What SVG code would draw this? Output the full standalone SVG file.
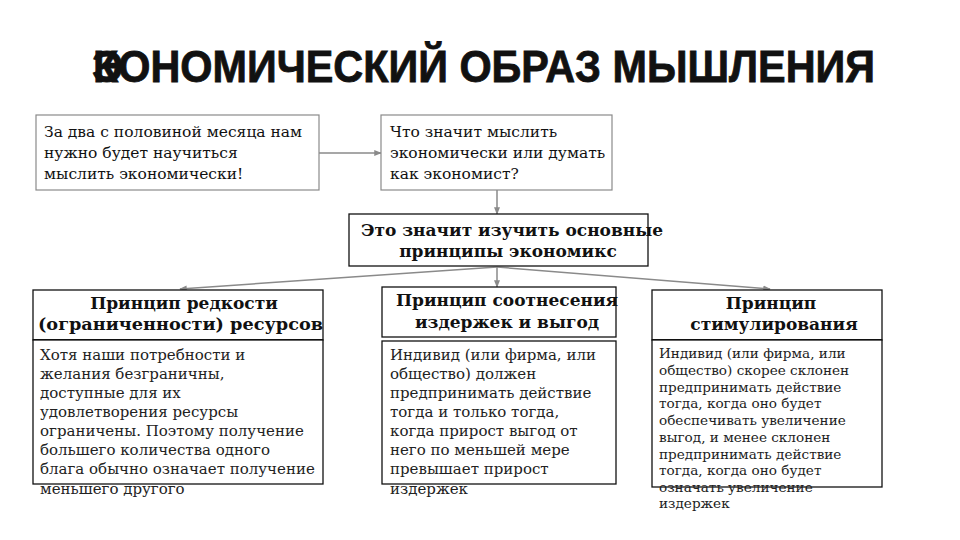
<svg xmlns="http://www.w3.org/2000/svg" width="960" height="540" viewBox="0 0 960 540">
<style>
.title{font-family:"Liberation Sans",Arial,sans-serif;font-weight:bold;font-size:44px;fill:#111;stroke:#111;stroke-width:0.8}
.q{font-family:"DejaVu Serif","Liberation Serif",serif;font-size:15.5px;fill:#111}
.h{font-family:"DejaVu Serif","Liberation Serif",serif;font-weight:bold;font-size:17px;fill:#111}
.b{font-family:"DejaVu Serif","Liberation Serif",serif;font-size:15px;fill:#222}
.s{font-family:"DejaVu Serif","Liberation Serif",serif;font-size:13.6px;fill:#222}
.boxg{fill:#fff;stroke:#8a8a8a;stroke-width:1.2}
.boxk{fill:#fff;stroke:#111;stroke-width:1.3}
.con{stroke:#8a8a8a;stroke-width:1.5;fill:none;marker-end:url(#ah)}
</style>
<defs>
<marker id="ah" viewBox="0 0 10 10" refX="9" refY="5" markerWidth="5" markerHeight="5" orient="auto">
<path d="M0,1 L10,5 L0,9 z" fill="#8a8a8a"/>
</marker>
</defs>
<rect width="960" height="540" fill="#fff"/>
<g id="title">
<text class="title" x="92" y="82">Э<tspan x="93" textLength="782" lengthAdjust="spacingAndGlyphs">КОНОМИЧЕСКИЙ ОБРАЗ МЫШЛЕНИЯ</tspan></text>
</g>
<g id="connectors">
<line class="con" x1="319" y1="153" x2="381" y2="153"/>
<line class="con" x1="497" y1="190" x2="497" y2="214"/>
<line class="con" x1="497" y1="267" x2="180" y2="289"/>
<line class="con" x1="497" y1="267" x2="497" y2="287"/>
<line class="con" x1="497" y1="267" x2="770" y2="289"/>
</g>
<g id="n1">
<rect class="boxg" x="36" y="115" width="283" height="75"/>
<text class="q" x="44" y="137">За два с половиной месяца нам</text>
<text class="q" x="44" y="158">нужно будет научиться</text>
<text class="q" x="44" y="179">мыслить экономически!</text>
</g>
<g id="n2">
<rect class="boxg" x="381" y="115" width="231" height="75"/>
<text class="q" x="390" y="137">Что значит мыслить</text>
<text class="q" x="390" y="158">экономически или думать</text>
<text class="q" x="390" y="179">как экономист?</text>
</g>
<g id="n3">
<rect class="boxk" x="349" y="214" width="299" height="52"/>
<text class="h" x="512" y="236" text-anchor="middle">Это значит изучить основные</text>
<text class="h" x="508" y="257" text-anchor="middle">принципы экономикс</text>
</g>
<g id="n4">
<rect class="boxk" x="33" y="290" width="290" height="50"/>
<line x1="33" y1="340" x2="323" y2="340" stroke="#111" stroke-width="2"/>
<rect class="boxk" x="33" y="340" width="290" height="144"/>
<text class="h" x="184" y="309" text-anchor="middle">Принцип редкости</text>
<text class="h" x="38" y="330" textLength="285" lengthAdjust="spacingAndGlyphs">(ограниченности) ресурсов</text>
<text class="b" x="40" y="360">Хотя наши потребности и</text>
<text class="b" x="40" y="379">желания безграничны,</text>
<text class="b" x="40" y="398">доступные для их</text>
<text class="b" x="40" y="417">удовлетворения ресурсы</text>
<text class="b" x="40" y="436">ограничены. Поэтому получение</text>
<text class="b" x="40" y="455">большего количества одного</text>
<text class="b" x="40" y="474">блага обычно означает получение</text>
<text class="b" x="40" y="494">меньшего другого</text>
</g>
<g id="n5">
<rect class="boxk" x="382" y="287" width="234" height="50"/>
<rect class="boxk" x="382" y="341" width="234" height="143"/>
<text class="h" x="507" y="306" text-anchor="middle">Принцип соотнесения</text>
<text class="h" x="507" y="328" text-anchor="middle">издержек и выгод</text>
<text class="b" x="390" y="360">Индивид (или фирма, или</text>
<text class="b" x="390" y="379">общество) должен</text>
<text class="b" x="390" y="398">предпринимать действие</text>
<text class="b" x="390" y="417">тогда и только тогда,</text>
<text class="b" x="390" y="436">когда прирост выгод от</text>
<text class="b" x="390" y="455">него по меньшей мере</text>
<text class="b" x="390" y="474">превышает прирост</text>
<text class="b" x="390" y="494">издержек</text>
</g>
<g id="n6">
<rect class="boxk" x="652" y="290" width="230" height="50"/>
<line x1="652" y1="340" x2="882" y2="340" stroke="#111" stroke-width="2"/>
<rect class="boxk" x="652" y="340" width="230" height="147"/>
<text class="h" x="771" y="309" text-anchor="middle">Принцип</text>
<text class="h" x="774" y="330" text-anchor="middle">стимулирования</text>
<text class="s" x="659" y="358">Индивид (или фирма, или</text>
<text class="s" x="659" y="375">общество) скорее склонен</text>
<text class="s" x="659" y="392">предпринимать действие</text>
<text class="s" x="659" y="408">тогда, когда оно будет</text>
<text class="s" x="659" y="425">обеспечивать увеличение</text>
<text class="s" x="659" y="442">выгод, и менее  склонен</text>
<text class="s" x="659" y="459">предпринимать действие</text>
<text class="s" x="659" y="475">тогда, когда оно будет</text>
<text class="s" x="659" y="492">означать увеличение</text>
<text class="s" x="659" y="508">издержек</text>
</g>
</svg>
